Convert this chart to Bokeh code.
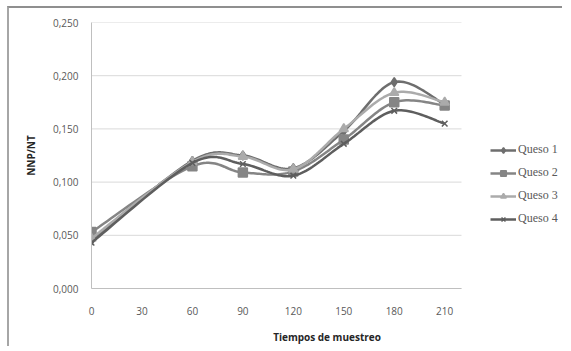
import numpy as np
from bokeh.plotting import figure
from bokeh.models import Range1d, FixedTicker, CustomJSTickFormatter, Legend, LegendItem
from bokeh.embed import file_html
from bokeh.resources import INLINE

tiempos = [0, 60, 90, 120, 150, 180, 210]
queso1 = [0.045, 0.120, 0.125, 0.113, 0.148, 0.194, 0.173]
queso2 = [0.053, 0.115, 0.109, 0.110, 0.140, 0.175, 0.172]
queso3 = [0.047, 0.119, 0.124, 0.112, 0.150, 0.184, 0.175]
queso4 = [0.043, 0.118, 0.117, 0.106, 0.136, 0.167, 0.155]
series_names = ["Queso 1", "Queso 2", "Queso 3", "Queso 4"]
x_ticks = [0, 30, 60, 90, 120, 150, 180, 210]
y_ticks = [0.0, 0.05, 0.10, 0.15, 0.20, 0.25]
x_max = 220

FRAME_W, FRAME_H = 471, 266
PLOT_W = 370  # pixel width of the 0..x_max data area


def smooth(xs, ys, n=24):
    xs = np.asarray(xs, float)
    ys = np.asarray(ys, float)
    sx, sy = PLOT_W / x_max, FRAME_H / 0.25
    px, py = xs * sx, ys * sy
    outx, outy = [], []
    m = len(xs)
    for i in range(m - 1):
        p0 = np.array([px[max(i - 1, 0)], py[max(i - 1, 0)]])
        p1 = np.array([px[i], py[i]])
        p2 = np.array([px[i + 1], py[i + 1]])
        p3 = np.array([px[min(i + 2, m - 1)], py[min(i + 2, m - 1)]])
        c1 = p1 + (p2 - p0) / 6.0
        c2 = p2 - (p3 - p1) / 6.0
        t = np.linspace(0, 1, n, endpoint=(i == m - 2))
        for tt in t:
            b = ((1 - tt) ** 3) * p1 + 3 * ((1 - tt) ** 2) * tt * c1 + 3 * (1 - tt) * tt ** 2 * c2 + tt ** 3 * p2
            outx.append(b[0] / sx)
            outy.append(b[1] / sy)
    return outx, outy


p = figure(frame_width=FRAME_W, frame_height=FRAME_H, output_backend="svg", toolbar_location=None,
           x_range=Range1d(0, x_max * FRAME_W / PLOT_W), y_range=Range1d(0, 0.25),
           min_border_left=82, min_border_right=0, min_border_top=14, min_border_bottom=10)
p.styles = {"border-top": "2px solid #8f8f8f", "border-left": "2px solid #a6a6a6",
            "margin-left": "7px", "margin-top": "6px"}
p.outline_line_color = None
p.background_fill_color = "white"
p.border_fill_color = "white"

p.xgrid.grid_line_color = None
p.ygrid.grid_line_color = None
p.segment(x0=[0] * len(y_ticks), y0=y_ticks, x1=[x_max] * len(y_ticks), y1=y_ticks,
          line_color="#d9d9d9", line_width=1)

p.xaxis.ticker = FixedTicker(ticks=x_ticks)
p.yaxis.ticker = FixedTicker(ticks=y_ticks)
p.xaxis.bounds = (0, x_max)
p.yaxis.formatter = CustomJSTickFormatter(code="return tick.toFixed(3).replace('.', ',');")
for ax in (p.xaxis[0], p.yaxis[0]):
    ax.axis_line_color = "#bfbfbf"
    ax.major_tick_line_color = None
    ax.minor_tick_line_color = None
    ax.major_label_text_font = "Open Sans"
    ax.major_label_text_font_size = "10px"
    ax.major_label_text_color = "#595959"
    ax.axis_label_text_font = "Open Sans"
    ax.axis_label_text_font_size = "10px"
    ax.axis_label_text_font_style = "bold"
    ax.axis_label_text_color = "#262626"
p.xaxis.major_label_standoff = 12
p.yaxis.major_label_standoff = 7
p.xaxis.axis_label = "Tiempos de muestreo"
p.yaxis.axis_label = "NNP/NT"
p.xaxis.axis_label_standoff = 12
p.yaxis.axis_label_standoff = 12

colors = ["#6e6e6e", "#858585", "#ababab", "#5e5e5e"]
data = [queso1, queso2, queso3, queso4]
items = []
for name, ys, col, mk in zip(series_names, data, colors, ["diamond", "square", "triangle", "x"]):
    sx, sy = smooth(tiempos, ys)
    r_line = p.line(sx, sy, line_color=col, line_width=2.5)
    size = {"diamond": 9, "square": 9, "triangle": 9, "x": 8}[mk]
    r_m = p.scatter(tiempos, ys, marker=mk, size=size, fill_color=col, line_color=col, line_width=1.5)
    items.append(LegendItem(label=name, renderers=[r_line, r_m]))

legend = Legend(items=items, location=(399, 62), label_text_font="Liberation Serif",
                label_text_font_size="12px", label_text_color="#595959",
                glyph_width=26, glyph_height=14, spacing=8, border_line_color=None,
                background_fill_alpha=0, padding=0, margin=0, label_standoff=2)
p.add_layout(legend, "center")

open("out.html", "w").write(file_html(p, INLINE))
